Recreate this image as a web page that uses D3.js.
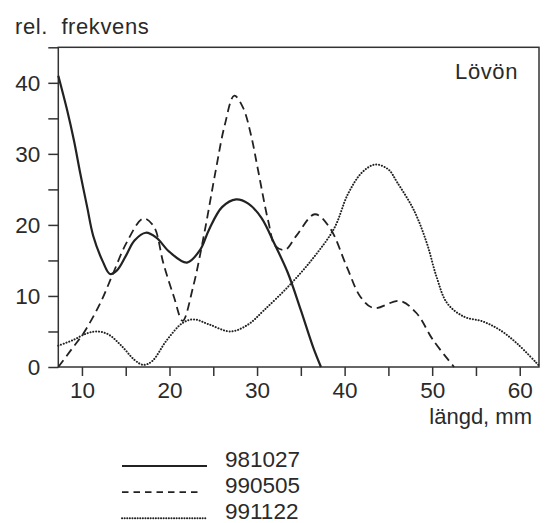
<!DOCTYPE html>
<html>
<head>
<meta charset="utf-8">
<script src="https://cdn.jsdelivr.net/npm/d3@7"></script>
<style>
  body { margin: 0; background: #fff; }
  text { font-family: "Liberation Sans", Arial, sans-serif; fill: #2a2a2a; }
</style>
</head>
<body>
<script>
// length (mm) and relative frequency per sampling date
var len981027 = [7.3, 8.3, 9.1, 9.8, 10.6, 11.3, 12.4, 13.2, 14, 15, 16, 17.3, 18.5, 20, 22, 23.5, 24.5, 26, 27.6, 29, 30.5, 32, 33.5, 35, 36.4, 37.3];
var frq981027 = [41, 36.2, 31.8, 27.3, 22.5, 18.4, 14.8, 13.1, 13.6, 15.6, 17.8, 18.9, 18.2, 16.2, 14.7, 16.5, 19.3, 22.5, 23.6, 23, 21, 17.3, 13.3, 8, 2.8, 0];

var len990505 = [7.3, 8.7, 10.2, 12.1, 13.6, 15.1, 17, 18.2, 19.3, 20.5, 21.5, 22.7, 24, 25.3, 26.3, 27.4, 28.4, 29.3, 30.1, 31.3, 32.1, 33.2, 34.5, 36.6, 38.3, 40.25, 41.8, 43.3, 46.3, 48.2, 50.1, 52.5];
var frq990505 = [0, 2.3, 4.8, 9, 13.3, 17.5, 20.9, 19.8, 14.6, 9.9, 6.5, 11.3, 19, 27.8, 34, 38.2, 36.5, 32.7, 27.8, 20.4, 17, 16.5, 18.5, 21.5, 19.6, 14.1, 9.9, 8.3, 9.3, 7.6, 3.8, 0];

var len991122 = [7.3, 9, 10.5, 11.7, 13, 14.5, 16, 17, 18, 19.7, 21.5, 22.8, 24.5, 27, 29, 30.8, 33.7, 36.45, 38.8, 40.4, 42, 43.5, 45, 46, 47.9, 49.4, 50.5, 51.7, 53.6, 55.8, 57.75, 59.7, 62.2];
var frq991122 = [3, 3.8, 4.7, 5, 4.6, 3, 1, 0.3, 0.8, 3.8, 6.2, 6.7, 6, 5, 6, 8, 11.5, 15.4, 19.5, 24.4, 27.4, 28.5, 27.8, 26, 22.1, 17.4, 12.7, 9, 7.1, 6.4, 5.2, 3.3, 0.2];

var seriesNames = ["981027", "990505", "991122"];
var xTicks = [10, 15, 20, 25, 30, 35, 40, 45, 50, 55, 60];
var yTicks = [0, 5, 10, 15, 20, 25, 30, 35, 40, 45];

var styles = [
  { width: 2.2, dash: null, legendDash: null, cap: "butt" },
  { width: 1.8, dash: "8.5,5", legendDash: "6.5,5", cap: "butt" },
  { width: 2, dash: "0.1,2.8", legendDash: "0.1,2.5", cap: "round" }
];

var svg = d3.select("body").append("svg").attr("width", 546).attr("height", 523);

var plotLeft = 58.3, plotRight = 539, plotTop = 47.3, plotBottom = 367;

var x = d3.scaleLinear().domain([7.3, 62.2]).range([plotLeft, plotRight]);
var y = d3.scaleLinear().domain([0, 45]).range([plotBottom, plotTop]);

// frame
svg.append("rect")
      .attr("x", plotLeft).attr("y", plotTop)
      .attr("width", plotRight - plotLeft).attr("height", plotBottom - plotTop)
      .attr("fill", "none").attr("stroke", "#333").attr("stroke-width", 1.5);

var yAxis = svg.append("g")
      .attr("transform", "translate(" + plotLeft + ",0)")
      .call(d3.axisLeft(y).tickValues(yTicks).tickSize(10).tickPadding(8)
            .tickFormat(function(d){ return (d % 10 === 0 && d <= 40) ? d : ""; }));

var xAxis = svg.append("g")
      .attr("transform", "translate(0," + plotBottom + ")")
      .call(d3.axisBottom(x).tickValues(xTicks).tickSize(9).tickPadding(6)
            .tickFormat(function(d){ return d % 10 === 0 ? d : ""; }));

[yAxis, xAxis].forEach(function(g){
  g.select(".domain").remove();
  g.selectAll(".tick line").attr("stroke", "#333").attr("stroke-width", 1.5);
  g.selectAll(".tick text").attr("font-size", 22.5).attr("fill", "#2a2a2a")
        .attr("font-family", "Liberation Sans, Arial, sans-serif");
});

var lens = [len981027, len990505, len991122];
var frqs = [frq981027, frq990505, frq991122];

var line = d3.line()
      .x(function(d){ return x(d[0]); })
      .y(function(d){ return y(d[1]); })
      .curve(d3.curveCatmullRom.alpha(0.5));

seriesNames.forEach(function(name, i){
  var pts = lens[i].map(function(l, j){ return [l, frqs[i][j]]; });
  svg.append("path")
        .attr("d", line(pts))
        .attr("fill", "none")
        .attr("stroke", "#222")
        .attr("stroke-width", styles[i].width)
        .attr("stroke-linecap", styles[i].cap)
        .attr("stroke-dasharray", styles[i].dash);
});

// labels
svg.append("text")
      .attr("x", 15).attr("y", 34)
      .attr("font-size", 22)
      .attr("letter-spacing", 0.6)
      .style("white-space", "pre")
      .text("rel.  frekvens");

svg.append("text")
      .attr("x", 518).attr("y", 79)
      .attr("font-size", 22)
      .attr("text-anchor", "end")
      .attr("letter-spacing", 0.6)
      .text("Lövön");

svg.append("text")
      .attr("x", 532).attr("y", 424)
      .attr("font-size", 22)
      .attr("text-anchor", "end")
      .text("längd, mm");

// legend
var legendY = [466, 492.2, 518.3];
var legendEnd = [207, 202, 207];
seriesNames.forEach(function(name, i){
  svg.append("line")
        .attr("x1", 122).attr("x2", legendEnd[i])
        .attr("y1", legendY[i]).attr("y2", legendY[i])
        .attr("stroke", "#222")
        .attr("stroke-width", styles[i].width)
        .attr("stroke-linecap", styles[i].cap)
        .attr("stroke-dasharray", styles[i].legendDash);
  svg.append("text")
        .attr("x", 225).attr("y", legendY[i] + 1)
        .attr("font-size", 22.5)
        .text(name);
});
</script>
</body>
</html>
